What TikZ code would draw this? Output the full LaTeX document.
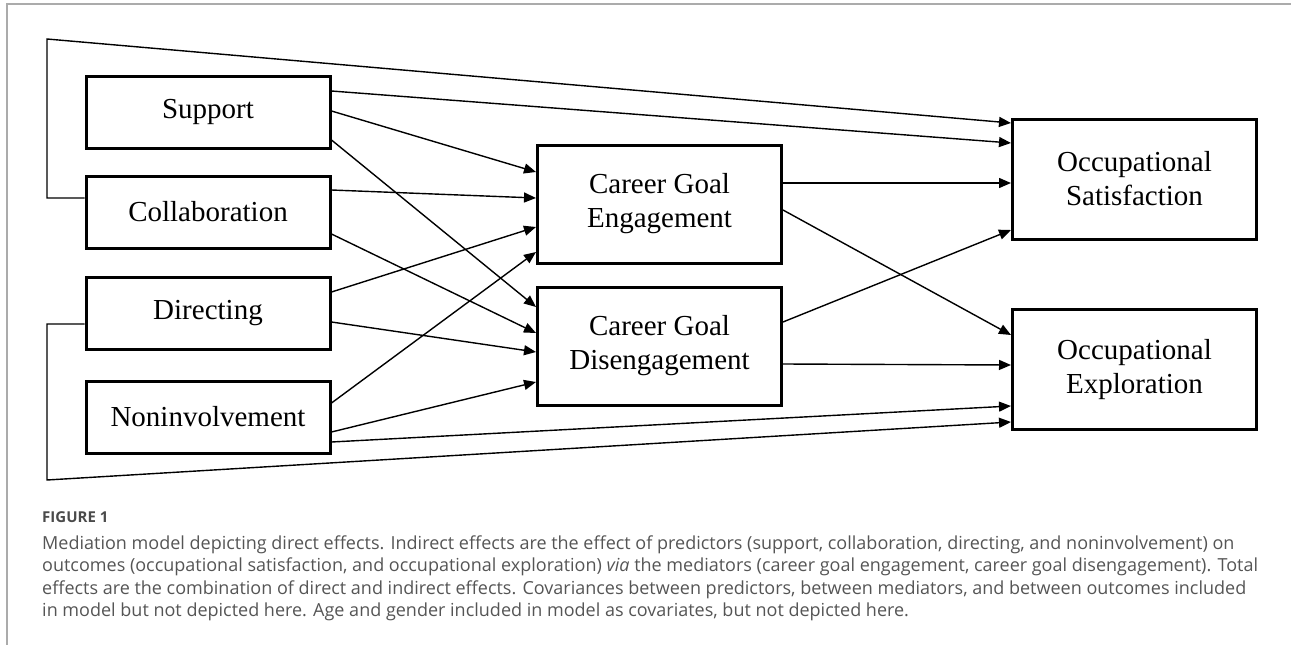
\documentclass[tikz,border=0pt]{standalone}
\usepackage{fontspec}
\setmainfont{Liberation Serif}
\newfontfamily\captionfont{Open Sans}
\usetikzlibrary{arrows.meta}
\definecolor{framegray}{HTML}{ABABAB}
\definecolor{captiongray}{HTML}{555555}
\definecolor{labelgray}{HTML}{4A4A4A}

\begin{document}
\begin{tikzpicture}%
	[x=1pt, y=-1pt,
	block/.style={draw, line width=3pt, minimum width=244pt, inner sep=0pt, align=center,
		font=\fontsize{29}{34}\selectfont},
	pred/.style={block, minimum height=72pt},
	medi/.style={block, minimum height=118pt},
	outc/.style={block, minimum height=120pt},
	effect/.style={line width=1.4pt, -{Triangle[length=12pt,width=10pt]}},
	caption/.style={anchor=base west, inner sep=0pt, text=captiongray,
		font=\captionfont\fontsize{18}{22}\selectfont}]
%
\useasboundingbox (0,0) rectangle (1291,645);
\draw[framegray, line width=1.5pt] (1291,4) -- (7,4) -- (7,645);
%
%% Predictors, mediators and outcomes
%%
\node[pred] (sup) at (208,112)   {Support};
\node[pred] (col) at (208,212)   {Collaboration};
\node[pred] (dir) at (208,313.5) {Directing};
\node[pred] (non) at (208,417)   {Noninvolvement};
\node[medi] (cge) at (659.5,204) {Career Goal\\Engagement};
\node[medi] (cgd) at (659.5,346) {Career Goal\\Disengagement};
\node[outc] (sat) at (1134.5,179)   {Occupational\\Satisfaction};
\node[outc] (exp) at (1134.5,369.5) {Occupational\\Exploration};
%%
%% Corners of the two long paths
%%
\coordinate (topturn) at (47,39);
\coordinate (botturn) at (47,480);
%%
%% Predictors to mediators
%%
\draw[effect] ([yshift=1pt]sup.east)     -- ([yshift=32pt]cge.west);
\draw[effect] ([yshift=-28pt]sup.east)   -- ([yshift=39pt]cgd.west);
\draw[effect] ([yshift=22pt]col.east)    -- ([yshift=6pt]cge.west);
\draw[effect] ([yshift=-22pt]col.east)   -- ([yshift=13pt]cgd.west);
\draw[effect] ([yshift=21.5pt]dir.east)  -- ([yshift=-23pt]cge.west);
\draw[effect] ([yshift=-8.5pt]dir.east)  -- ([yshift=-6pt]cgd.west);
\draw[effect] ([yshift=14pt]non.east)    -- ([yshift=-48pt]cge.west);
\draw[effect] ([yshift=-15pt]non.east)   -- ([yshift=-36pt]cgd.west);
%%
%% Mediators to outcomes
%%
\draw[effect] ([yshift=21pt]cge.east)    -- ([yshift=-4pt]sat.west);
\draw[effect] ([yshift=-6pt]cge.east)    -- ([yshift=34.5pt]exp.west);
\draw[effect] ([yshift=24pt]cgd.east)    -- ([yshift=-51pt]sat.west);
\draw[effect] ([yshift=-18pt]cgd.east)   -- ([yshift=4.5pt]exp.west);
%%
%% Direct effects
%%
\draw[effect] ([yshift=21pt]sup.east)    -- ([yshift=36pt]sat.west);
\draw[effect] ([yshift=14pt]col.west) -| (topturn) -- ([yshift=56pt]sat.west);
\draw[effect] ([yshift=-25pt]non.east)   -- ([yshift=-36.5pt]exp.west);
\draw[effect] ([yshift=-10.5pt]dir.west) -| (botturn) -- ([yshift=-52.5pt]exp.west);
%%
%% Caption
%%
\node[caption, text=labelgray, font=\captionfont\bfseries\fontsize{15}{17}\selectfont]
	(fig) at (42,522) {FIGURE 1};
\node[caption] (cap1) at (42,549) {Mediation model depicting direct effects. Indirect effects are the effect of predictors (support, collaboration, directing, and noninvolvement) on};
\node[caption] (cap2) at (42,571.5) {outcomes (occupational satisfaction, and occupational exploration) \textit{via} the mediators (career goal engagement, career goal disengagement). Total};
\node[caption] (cap3) at (42,594) {effects are the combination of direct and indirect effects. Covariances between predictors, between mediators, and between outcomes included};
\node[caption] (cap4) at (42,616.5) {in model but not depicted here. Age and gender included in model as covariates, but not depicted here.};
%%
\end{tikzpicture}
\end{document}
